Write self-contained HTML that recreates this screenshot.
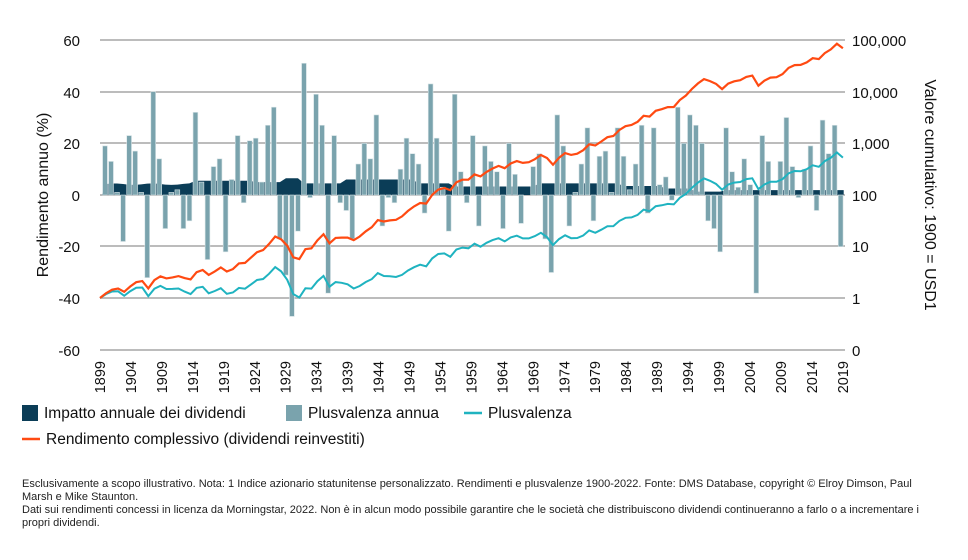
<!DOCTYPE html>
<html><head><meta charset="utf-8"><style>
body{margin:0;background:#fff;width:968px;height:560px;overflow:hidden;font-family:"Liberation Sans",sans-serif}
.fn{position:absolute;left:22px;top:478px;font-size:11px;line-height:13px;color:#222;white-space:nowrap}
</style></head><body>
<svg id="s" width="968" height="470" style="position:absolute;left:0;top:0" font-family="Liberation Sans, sans-serif">
<g stroke="#a6a6a6" stroke-width="1.5">
<line x1="100" x2="845" y1="40" y2="40"/><line x1="100" x2="845" y1="92" y2="92"/><line x1="100" x2="845" y1="143" y2="143"/><line x1="100" x2="845" y1="195" y2="195"/><line x1="100" x2="845" y1="246" y2="246"/><line x1="100" x2="845" y1="298" y2="298"/><line x1="100" x2="845" y1="350" y2="350"/>
</g>
<g font-size="15" fill="#111" text-anchor="end">
<text x="80" y="46">60</text><text x="80" y="98">40</text><text x="80" y="149">20</text><text x="80" y="201">0</text><text x="80" y="252">-20</text><text x="80" y="304">-40</text><text x="80" y="356">-60</text>
</g>
<g font-size="15" fill="#111">
<text x="852" y="46">100,000</text><text x="852" y="98">10,000</text><text x="852" y="149">1,000</text><text x="852" y="201">100</text><text x="852" y="252">10</text><text x="852" y="304">1</text><text x="852" y="356">0</text>
</g>
<text font-size="16" fill="#111" transform="translate(48,195) rotate(-90)" text-anchor="middle">Rendimento annuo (%)</text>
<text font-size="16" fill="#111" transform="translate(925,195) rotate(90)" text-anchor="middle">Valore cumulativo: 1900 = USD1</text>
<g id="xl" font-size="14.5" fill="#111" text-anchor="end"></g>
<path id="div" fill="#0b3d57"/>
<g id="bars"></g>
<path id="pl" fill="none" stroke="#1fb3c0" stroke-width="2"/>
<path id="tl" fill="none" stroke="#ff4a12" stroke-width="2.2"/>
<rect x="22" y="405" width="16" height="16" fill="#0b3d57"/>
<text x="44" y="418" font-size="15.5" fill="#111">Impatto annuale dei dividendi</text>
<rect x="286" y="405" width="16" height="16" fill="#7aa3ad"/>
<text x="308" y="418" font-size="15.5" fill="#111">Plusvalenza annua</text>
<line x1="464" x2="482" y1="413" y2="413" stroke="#1fb3c0" stroke-width="2.5"/>
<text x="488" y="418" font-size="15.5" fill="#111">Plusvalenza</text>
<line x1="22" x2="40" y1="439" y2="439" stroke="#ff4a12" stroke-width="2.5"/>
<text x="46" y="444" font-size="15.5" fill="#111">Rendimento complessivo (dividendi reinvestiti)</text>
</svg>
<div class="fn">Esclusivamente a scopo illustrativo. Nota: 1 Indice azionario statunitense personalizzato. Rendimenti e plusvalenze 1900-2022. Fonte: DMS Database, copyright © Elroy Dimson, Paul<br>Marsh e Mike Staunton.<br>Dati sui rendimenti concessi in licenza da Morningstar, 2022. Non è in alcun modo possibile garantire che le società che distribuiscono dividendi continueranno a farlo o a incrementare i<br>propri dividendi.</div>
<script>
var NS="http://www.w3.org/2000/svg";
var P=[19,13,1,-18,23,17,1,-32,40,14,-13,1,2,-13,-10,32,5,-25,11,14,-22,6,23,-3,21,22,5,27,34,-17,-31,-47,-14,51,-1,39,27,-38,23,-3,-6,-17,12,20,14,31,-12,-1,-3,10,22,16,12,-7,43,22,3,-14,39,9,-3,23,-12,19,13,9,-13,20,8,-11,0,11,16,-17,-30,31,19,-12,1,12,26,-10,15,17,1,26,15,2,12,27,-7,26,4,7,-2,34,20,31,27,20,-10,-13,-22,26,9,3,14,4,-38,23,13,0,13,30,11,-1,10,19,-6,29,16,27,-20];
var D=[];for(var i=0;i<123;i++){var y=1900+i,d;
if(y<1915)d=4.2+0.3*Math.sin(i);else if(y<1925)d=5.5;else if(y<1930)d=5;else if(y<1933)d=6.5;else if(y<1940)d=4.5;else if(y<1952)d=6;else if(y<1958)d=4.5;else if(y<1972)d=3.3;else if(y<1986)d=4.5;else if(y<1993)d=3.5;else if(y<1998)d=2.5;else if(y<2003)d=1.3;else d=1.9;D.push(d);}
var bg=document.getElementById("bars");
function X(i){return 102+6.03*i;}function Yp(v){return 195-v*2.583;}
for(var i=0;i<123;i++){var r=document.createElementNS(NS,"rect"),v=P[i];r.setAttribute("x",X(i)+0.6);r.setAttribute("width",4.8);r.setAttribute("y",Math.min(Yp(v),195));r.setAttribute("height",Math.abs(v*2.583));r.setAttribute("fill","#7aa3ad");r.setAttribute("stroke","#d8e4e7");r.setAttribute("stroke-width","0.6");bg.appendChild(r);}
var dp="M"+X(0)+",195";for(i=0;i<123;i++){dp+=" L"+(X(i)+3)+","+Yp(D[i]);}dp+=" L"+X(123)+","+Yp(D[122])+" L"+X(123)+",195Z";document.getElementById("div").setAttribute("d",dp);
function line(tot,endv){var L=[0],c=0;for(var i=0;i<123;i++){var r=P[i]+(tot?D[i]:0);c+=Math.log10(1+r/100);L.push(c);}var adj=(Math.log10(endv)-L[123])/123;var d="";for(i=0;i<=123;i++){var y=298-(L[i]+adj*i)*51.7;d+=(i?" L":"M")+(100+6.04*i).toFixed(1)+","+y.toFixed(1);}return d;}
document.getElementById("pl").setAttribute("d",line(false,520));
document.getElementById("tl").setAttribute("d",line(true,68000));
var xl=document.getElementById("xl");for(var y=1899;y<=2019;y+=5){var t=document.createElementNS(NS,"text");var x=100+(y-1899)*6.19+5;t.setAttribute("transform","translate("+x+",361) rotate(-90)");t.textContent=y;xl.appendChild(t);}
</script>
</body></html>
